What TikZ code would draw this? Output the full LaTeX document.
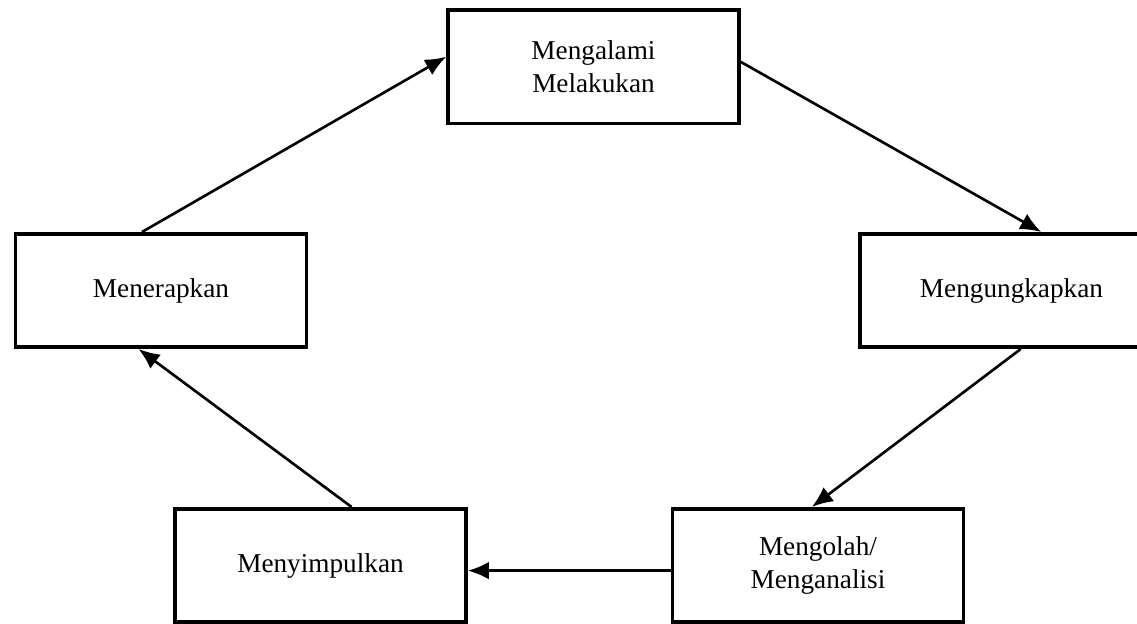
\documentclass[tikz,border=0pt]{standalone}
\usepackage{fontspec}
\setmainfont{Liberation Serif}
\usetikzlibrary{arrows.meta}

\tikzset{
  stage/.style={draw, line width=2pt, rectangle, align=center,
    minimum width=5.82cm, minimum height=2.27cm, inner sep=0pt},
  flow/.style={line width=1.5pt, -{Latex[length=12pt,width=10pt]}}
}

\begin{document}
\begin{tikzpicture}[font=\fontsize{15.5}{19}\selectfont, x=0.02cm, y=-0.02cm]

\useasboundingbox (0,0) rectangle (1137,624);

\node[stage] (exp) at (593.5,67) {Mengalami\\Melakukan};
\node[stage, minimum width=6.06cm] (share) at (1011.5,290.5) {Mengungkapkan};
\node[stage] (process) at (818,565.5) {Mengolah/\\Menganalisi};
\node[stage] (conclude) at (320.5,565.5) {Menyimpulkan};
\node[stage] (apply) at (161,290.5) {Menerapkan};

\draw[flow] (apply.108.6) -- (exp.176.5);
\draw[flow] (exp.2.75) -- (share.63.2);
\draw[flow] (share.-81.4) -- (process.96.2);
\draw[flow] (process.182.6) -- (conclude.-2.9);
\draw[flow] (conclude.62.4) -- (apply.249.6);
\end{tikzpicture}
\end{document}
